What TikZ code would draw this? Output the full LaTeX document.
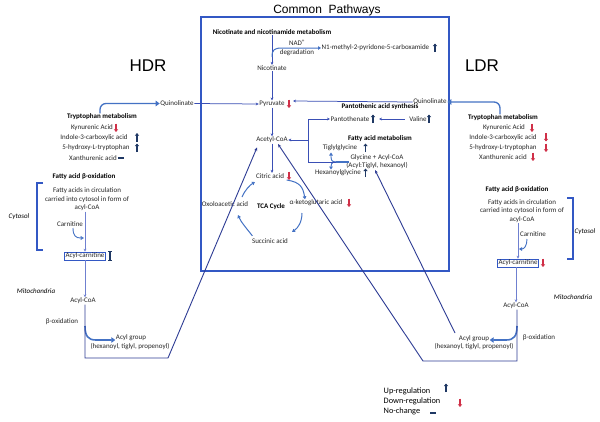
\documentclass[tikz,border=0pt]{standalone}
\usepackage{fontspec}
\setmainfont{Carlito}
\newfontfamily\arialf{Liberation Sans}
\usetikzlibrary{arrows.meta}
\definecolor{boxblue}{HTML}{3358C4}
\definecolor{lineblue}{HTML}{3A4FB5}
\definecolor{lightblue}{HTML}{6F80D0}
\definecolor{navyline}{HTML}{2E3C94}
\definecolor{curveblue}{HTML}{4472C4}
\definecolor{upc}{HTML}{1F3864}
\definecolor{downc}{HTML}{D03048}
\begin{document}
\begin{tikzpicture}[x=1pt,y=-1pt,
  txt/.style={font=\fontsize{7}{8.5}\selectfont, inner sep=0.5pt, text=black!85},
  bld/.style={font=\fontsize{7}{8.5}\selectfont\bfseries, inner sep=0.5pt},
  itl/.style={font=\fontsize{7}{8.5}\selectfont\itshape, inner sep=0.5pt},
  leg/.style={font=\fontsize{8.3}{9.5}\selectfont, inner sep=0.5pt, anchor=west},
  ttl/.style={font=\arialf\fontsize{12}{14}\selectfont, inner sep=0pt},
  big/.style={font=\arialf\fontsize{17}{20}\selectfont, inner sep=0pt},
  conn/.style={draw=lineblue, line width=0.75pt, -{Stealth[length=3pt,width=2.8pt]}},
  lconn/.style={draw=lightblue, line width=0.85pt, -{Stealth[length=3pt,width=2.8pt]}},
  navyconn/.style={draw=navyline, line width=0.9pt, -{Stealth[length=3.5pt,width=3pt]}},
  cthin/.style={draw=curveblue, line width=1pt, -{Triangle[length=3pt,width=3.6pt]}},
  cthick/.style={draw=curveblue, line width=1.6pt, -{Triangle[length=4pt,width=5.5pt]}},
  bracket/.style={draw=boxblue, line width=1.8pt},
  uparr/.pic={\draw[upc, line width=1.3pt, -{Triangle[length=2.6pt,width=4pt]}] (0,4) -- (0,-4.5);},
  downarr/.pic={\draw[downc, line width=1.3pt, -{Triangle[length=2.6pt,width=4pt]}] (0,-4.5) -- (0,4);},
  nochg/.pic={\fill[upc] (-3.2,-1.2) rectangle (3.2,1.2);},
  ibeam/.pic={\draw[upc, line width=1.1pt] (0,-4.5) -- (0,4.5) (-1.8,-4.5) -- (1.8,-4.5) (-1.8,4.5) -- (1.8,4.5);}
]
\useasboundingbox (0,0) rectangle (600,421);
\fill[white] (0,0) rectangle (600,421);

% ---------- common box ----------
\draw[boxblue, line width=1.4pt] (201,17) rectangle (449,271);
\node[ttl] (title) at (327,10) {Common\ \ Pathways};
\node[big] (hdr) at (148,66) {HDR};
\node[big] (ldr) at (482,66) {LDR};

% ---------- common pathways nodes ----------
\node[bld] (nicm) at (272,32) {Nicotinate and nicotinamide metabolism};
\node[txt] (nic) at (272,68) {Nicotinate};
\node[txt, anchor=west] (n1) at (321,48) {N1-methyl-2-pyridone-5-carboxamide};
\pic at (435,48) {uparr};
\node[txt] (nad) at (297,43) {NAD\textsuperscript{+}};
\node[txt] (deg) at (297,53) {degradation};
\node[txt] (pyr) at (272,104) {Pyruvate};
\pic at (289,104) {downarr};
\node[txt] (acoa) at (272,140) {Acetyl-CoA};
\node[txt] (cit) at (270,176) {Citric acid};
\pic at (289,176) {downarr};
\node[txt] (akg) at (316,203) {α-ketoglutaric acid};
\pic at (349,203) {downarr};
\node[txt] (suc) at (270,241) {Succinic acid};
\node[txt] (oxa) at (225,204) {Oxoloacetic acid};
\node[bld] (tca) at (271,207) {TCA Cycle};
\node[bld] (pas) at (380,107) {Pantothenic acid synthesis};
\node[txt] (pan) at (350,119) {Pantothenate};
\pic at (373,119) {uparr};
\node[txt] (val) at (418,119) {Valine};
\pic at (429,119) {uparr};
\node[bld] (fam) at (380,139) {Fatty acid metabolism};
\node[txt] (tig) at (340,148) {Tiglylglycine};
\pic at (365.5,148) {uparr};
\node[txt] (gly) at (377,158) {Glycine + Acyl-CoA};
\node[txt] (acy) at (377,165.5) {(Acyl:Tiglyl, hexanoyl)};
\node[txt] (hex) at (338,173) {Hexanoylglycine};
\pic at (365.5,173) {uparr};
\node[txt] (qH) at (177,103.5) {Quinolinate};
\node[txt] (qL) at (430,102) {Quinolinate};

% ---------- HDR panel ----------
\node[bld] (trH) at (102,117) {Tryptophan metabolism};
\node[txt] (kyH) at (92,128) {Kynurenic Acid};
\pic at (116,128) {downarr};
\node[txt] (inH) at (94,137.5) {Indole-3-carboxylic acid};
\pic at (137,137.5) {uparr};
\node[txt] (hyH) at (96,148) {5-hydroxy-L-tryptophan};
\pic at (137,148) {uparr};
\node[txt] (xaH) at (93,158) {Xanthurenic acid};
\pic at (121,158) {nochg};
\node[bld] (faH) at (84,177) {Fatty acid β-oxidation};
\node[txt, align=center] (fcH) at (87,199.5) {Fatty acids in circulation\\carried into cytosol in form of\\acyl-CoA};
\node[txt] (carH) at (70,224) {Carnitine};
\node[txt, draw=boxblue, line width=0.6pt, inner sep=1pt] (acH) at (85,256) {Acyl-carnitine};
\pic at (110,256) {ibeam};
\node[txt] (acoaH) at (83,301) {Acyl-CoA};
\node[txt] (betaH) at (62,322) {β-oxidation};
\node[txt] (agH) at (131,338) {Acyl group};
\node[txt] (agH2) at (130,347) {(hexanoyl, tiglyl, propenoyl)};
\node[itl] (mitH) at (36,291) {Mitochondria};
\node[itl] (cytH) at (19,217) {Cytosol};
\draw[bracket] (43,183) -- (37,183) -- (37,250) -- (43,250);

% ---------- LDR panel ----------
\node[bld] (trL) at (503,118) {Tryptophan metabolism};
\node[txt] (kyL) at (504,128) {Kynurenic Acid};
\pic at (532,128) {downarr};
\node[txt] (inL) at (503,137.5) {Indole-3-carboxylic acid};
\pic at (546,137.5) {downarr};
\node[txt] (hyL) at (503,148) {5-hydroxy-L-tryptophan};
\pic at (546,148) {downarr};
\node[txt] (xaL) at (503,157) {Xanthurenic acid};
\pic at (533,157) {downarr};
\node[bld] (faL) at (517,190) {Fatty acid β-oxidation};
\node[txt, align=center] (fcL) at (522,211) {Fatty acids in circulation\\carried into cytosol in form of\\acyl-CoA};
\node[txt] (carL) at (533,234) {Carnitine};
\node[txt, draw=boxblue, line width=0.6pt, inner sep=1pt] (acL) at (518,263) {Acyl-carnitine};
\pic at (543,263) {downarr};
\node[txt] (acoaL) at (516,306) {Acyl-CoA};
\node[txt] (betaL) at (539,338) {β-oxidation};
\node[txt] (agL) at (474,339) {Acyl group};
\node[txt] (agL2) at (474,347) {(hexanoyl, tiglyl, propenoyl)};
\node[itl] (mitL) at (573,297) {Mitochondria};
\node[itl] (cytL) at (585,232) {Cytosol};
\draw[bracket] (567,198) -- (573,198) -- (573,259) -- (567,259);

% ---------- legend ----------
\node[leg] (lg1) at (383,391) {Up-regulation};
\node[leg] (lg2) at (383,401) {Down-regulation};
\node[leg] (lg3) at (383,411) {No-change};
\pic at (446,388) {uparr};
\pic at (460,403) {downarr};
\pic at (433,413) {nochg};

% ---------- coordinates ----------
\coordinate (nb) at (272,57);
\coordinate (pyrE) at (293,101);
\coordinate (panE) at (379,119);
\coordinate (gb) at (336,162);
\coordinate (jn) at (308,162);
\coordinate (jA) at (308,140);
\coordinate (hdrC) at (85,358);
\coordinate (hdrD) at (168,358);
\coordinate (acoaSW) at (257,147.5);
\coordinate (ldrC) at (517,361);
\coordinate (ldrD) at (423,361);
\coordinate (acoaSE) at (278,144);
\coordinate (agLs) at (455,333);
\coordinate (glyS) at (375,170);

% ---------- connectors ----------
\draw[conn] (nicm.south) -- (nic.north);
\draw[cthin] (nb) .. controls (272,50) and (274,48) .. (282,48) -- (n1.west);
\draw[conn] (nic.south) -- (pyr.north);
\draw[conn] (pyr.south) -- (acoa.north);
\draw[conn] (acoa.south) -- (cit.north -| acoa.south);
\draw[conn] (qH.east) -- (pyr.west);
\draw[conn] (qL.west) -- (pyrE);
\draw[conn] (val.west) ++(-4,0) -- (panE);
% TCA cycle arcs
\draw[cthin] (cit.east) ++(2,4) .. controls (300,182) and (303,187) .. (akg.north -| 305,0);
\draw[cthin] (302,213) .. controls (302,222) and (298,228) .. (292,232);
\draw[cthin] (suc.north west) ++(1,-2) .. controls (247,229) and (241,222) .. (238,215);
\draw[cthin] (242,197) .. controls (245,190) and (250,185) .. (255,182);
% tryptophan curves
\draw[cthick, line width=1.3pt, rounded corners=6pt] (trH.north) ++(-2,0) |- (qH.west);
\draw[cthick, line width=1.3pt, rounded corners=6pt] (trL.north) ++(-3,0) |- (qL.east);
% fatty acid metabolism network
\draw[curveblue, line width=1.8pt] (gly.west |- gb) ++(-1,0) -- (gb);
\draw[cthin, line width=0.9pt] (gb) .. controls (331,162) and (331,159) .. (331,152.5);
\draw[cthin, line width=0.9pt] (gb) .. controls (331,162) and (331,165) .. (331,169.5);
\draw[lineblue, line width=0.75pt] (gb) -- (jn);
\draw[conn] (jn) |- (pan.west);
\draw[conn] (jA) -- (acoa.east);
% HDR beta-oxidation column
\draw[lconn] (fcH.south -| acH.north) -- (acH.north);
\draw[lconn] (acH.south) -- (acH.south |- acoaH.north);
\draw[draw=curveblue, line width=0.9pt, -{Triangle[open, length=3.5pt, width=4pt]}] (73,228) .. controls (73,236) and (76,238) .. (84,238);
\draw[cthick] (85,326) .. controls (85,336) and (88,340) .. (96,340) -- (agH.west |- 0,340);
\draw[navyconn] (acoaH.south -| hdrC) -- (hdrC) -- (hdrD) -- (acoaSW);
% LDR beta-oxidation column
\draw[lconn] (fcL.south -| acL.north) -- (acL.north);
\draw[lconn] (acL.south -| acoaL.north) -- (acoaL.north);
\draw[cthin, line width=0.9pt] (527,239) .. controls (527,246) and (524,249) .. (519,249);
\draw[cthick] (517,326) .. controls (517,336) and (514,340) .. (506,340) -- (agL.east |- 0,340);
\draw[navyconn] (acoaL.south -| ldrC) -- (ldrC) -- (ldrD) -- (acoaSE);
\draw[navyconn] (agLs) -- (glyS);
\end{tikzpicture}
\end{document}
